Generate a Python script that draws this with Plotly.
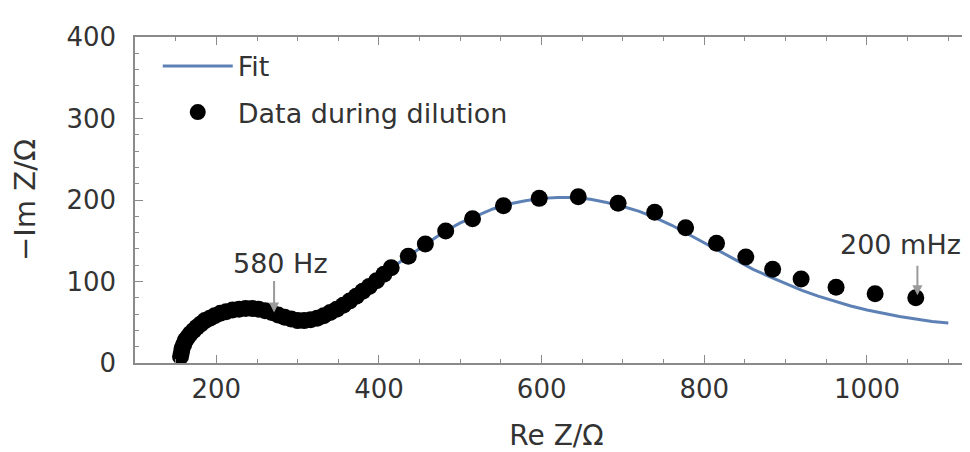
import plotly.graph_objects as go

# Measured data (Re Z, -Im Z) in ohms
data_re = [156, 157, 158, 160, 162, 165, 168, 172, 176, 181, 186, 192, 198, 205, 212,
           220, 228, 236, 244, 252, 260, 268, 276, 284, 292, 300, 308, 316, 324, 332,
           340, 348, 356, 364, 372, 380, 388, 397, 406,
           415, 436, 457, 482, 515, 553, 597, 645, 694, 739, 777, 815, 851, 884, 919,
           962, 1010, 1060]
data_im = [8, 13, 18, 23, 28, 32, 36, 40, 44, 48, 52, 55, 58, 61, 63,
           65, 66, 67, 67, 66, 64, 62, 59, 56, 54, 52, 52, 53, 55, 58,
           62, 66, 71, 76, 82, 88, 94, 101, 109,
           117, 131, 146, 162, 177, 193, 202, 204, 196, 185, 166, 147, 130, 115, 103,
           93, 85, 80]

# Fit curve
fit_re = [156, 160, 166, 175, 186, 198, 212, 228, 244, 260, 276, 292, 308, 324, 340,
          356, 372, 388, 404, 420, 440, 460, 480, 500, 520, 540, 560, 580, 600, 620,
          640, 660, 680, 700, 720, 740, 760, 780, 800, 820, 840, 860, 880, 900, 920,
          940, 960, 980, 1000, 1020, 1040, 1060, 1080, 1100]
fit_im = [8, 23, 34, 44, 52, 58, 63, 66, 67, 64, 59, 54, 52, 55, 62,
          71, 82, 94, 106, 120, 134, 148, 161, 172, 181, 189, 195, 199, 202, 203,
          203, 201, 197, 192, 186, 178, 169, 158, 148, 137, 126, 115, 106, 97, 89,
          82, 76, 70, 65, 61, 57, 54, 51, 49]

FONT = "DejaVu Sans"
TXT = "#333333"
AX = "#8a8a8a"

fig = go.Figure()
fig.add_trace(go.Scatter(x=fit_re, y=fit_im, mode="lines", name="Fit",
                         line=dict(color="#5E81B5", width=3), legendgroup="a"))
fig.add_trace(go.Scatter(x=data_re, y=data_im, mode="markers", name="Data during dilution",
                         marker=dict(color="black", size=17), legendgroup="b"))

# annotations: arrows and labels
fig.add_annotation(x=271, y=62, ax=0, ay=-33, text="", showarrow=True,
                   arrowhead=2, arrowsize=1, arrowwidth=2, arrowcolor="#9a9a9a")
fig.add_annotation(x=279, y=122, text="580 Hz", showarrow=False,
                   font=dict(family=FONT, size=27, color=TXT))
fig.add_annotation(x=1062, y=83, ax=0, ay=-31, text="", showarrow=True,
                   arrowhead=2, arrowsize=1, arrowwidth=2, arrowcolor="#9a9a9a")
fig.add_annotation(x=1041, y=146, text="200 mHz", showarrow=False,
                   font=dict(family=FONT, size=27, color=TXT))

fig.update_layout(
    width=970, height=452,
    margin=dict(l=127, r=0, t=29, b=97),
    paper_bgcolor="white", plot_bgcolor="white",
    font=dict(family=FONT, size=26, color=TXT),
    showlegend=True,
    legend=dict(x=0.027, y=0.985, xanchor="left", yanchor="top",
                bgcolor="rgba(0,0,0,0)", font=dict(family=FONT, size=27, color=TXT),
                itemwidth=70, tracegroupgap=8, traceorder="grouped"),
    xaxis=dict(range=[100, 1136.5], dtick=200, tick0=0, showgrid=False, zeroline=False,
               showline=True, linecolor=AX, linewidth=1.5, mirror="ticks",
               ticks="inside", ticklen=8, tickcolor=AX, tickwidth=1.2,
               minor=dict(dtick=50, tick0=0, ticks="inside", ticklen=4, tickcolor=AX, tickwidth=1),
               ticklabelstandoff=2,
               title=dict(text="Re Z/Ω", font=dict(family=FONT, size=28, color=TXT), standoff=22)),
    yaxis=dict(range=[0, 400], dtick=100, showgrid=False, zeroline=False,
               showline=True, linecolor=AX, linewidth=1.5, mirror=False,
               ticks="inside", ticklen=8, tickcolor=AX, tickwidth=1.2,
               minor=dict(dtick=20, ticks="inside", ticklen=4, tickcolor=AX, tickwidth=1),
               ticklabelstandoff=12,
               title=dict(text="−Im Z/Ω", font=dict(family=FONT, size=29, color=TXT), standoff=24)),
)

fig.write_html("out.html")
